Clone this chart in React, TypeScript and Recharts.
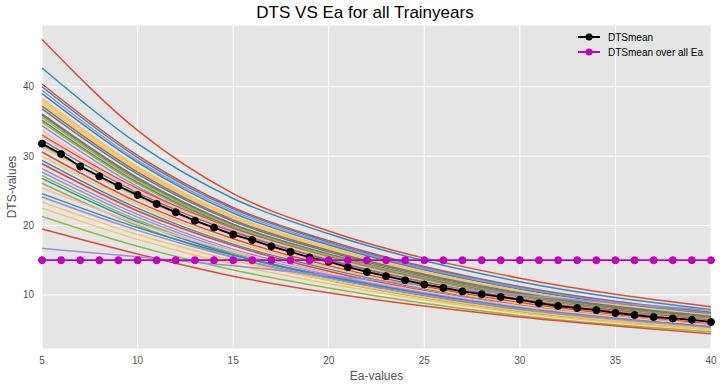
import { LineChart, Line, XAxis, YAxis, CartesianGrid } from 'recharts';

// Ea values (x axis) for the mean series
const eaValues = [5, 6, 7, 8, 9, 10, 11, 12, 13, 14, 15, 16, 17, 18, 19, 20, 21, 22, 23, 24, 25, 26, 27, 28, 29, 30, 31, 32, 33, 34, 35, 36, 37, 38, 39, 40];

const dtsMean = [31.8, 30.3, 28.5, 27.1, 25.7, 24.4, 23.1, 21.9, 20.7, 19.7, 18.7, 17.9, 17.0, 16.2, 15.4, 14.8, 14.0, 13.3, 12.7, 12.1, 11.5, 11.0, 10.5, 10.1, 9.7, 9.3, 8.8, 8.4, 8.1, 7.8, 7.4, 7.1, 6.8, 6.6, 6.4, 6.1];

const dtsMeanAllEa = [15.0, 15.0, 15.0, 15.0, 15.0, 15.0, 15.0, 15.0, 15.0, 15.0, 15.0, 15.0, 15.0, 15.0, 15.0, 15.0, 15.0, 15.0, 15.0, 15.0, 15.0, 15.0, 15.0, 15.0, 15.0, 15.0, 15.0, 15.0, 15.0, 15.0, 15.0, 15.0, 15.0, 15.0, 15.0, 15.0];

// Ea values at which each trainyear curve was read
const curveEa = [5, 10, 15, 20, 30, 40];

const trainYearCurves = [
  [46.8, 33.7, 24.6, 19.2, 12.4, 8.3],
  [42.7, 31.8, 23.9, 18.8, 11.9, 7.9],
  [40.4, 30.1, 22.6, 17.8, 11.2, 7.5],
  [40.0, 29.8, 22.4, 17.6, 11.1, 7.4],
  [39.5, 29.4, 22.1, 17.4, 11.0, 7.3],
  [39.0, 29.1, 21.8, 17.2, 10.8, 7.2],
  [38.3, 28.5, 21.4, 16.9, 10.6, 7.1],
  [38.0, 28.3, 21.3, 16.7, 10.6, 7.0],
  [37.6, 28.0, 21.1, 16.5, 10.5, 7.0],
  [37.2, 27.7, 20.8, 16.4, 10.3, 6.9],
  [36.8, 27.4, 20.6, 16.2, 10.2, 6.8],
  [36.1, 26.9, 20.2, 15.9, 10.0, 6.7],
  [35.9, 26.7, 20.1, 15.8, 10.0, 6.6],
  [35.6, 26.5, 19.9, 15.7, 9.9, 6.6],
  [35.2, 26.2, 19.7, 15.5, 9.8, 6.5],
  [34.9, 26.0, 19.5, 15.4, 9.7, 6.5],
  [34.4, 25.6, 19.3, 15.1, 9.6, 6.4],
  [33.7, 25.1, 18.9, 14.8, 9.4, 6.2],
  [33.2, 24.7, 18.6, 14.6, 9.2, 6.1],
  [33.0, 25.3, 19.5, 15.3, 9.6, 6.3],
  [32.8, 25.1, 19.4, 15.3, 9.5, 6.2],
  [32.3, 24.7, 19.1, 15.0, 9.4, 6.1],
  [31.6, 24.2, 18.6, 14.7, 9.2, 6.0],
  [31.3, 24.0, 18.5, 14.6, 9.1, 5.9],
  [30.6, 23.4, 18.1, 14.2, 8.9, 5.8],
  [30.0, 23.0, 17.7, 14.0, 8.7, 5.7],
  [29.4, 22.5, 17.3, 13.7, 8.5, 5.6],
  [29.0, 22.2, 17.1, 13.5, 8.4, 5.5],
  [28.9, 22.1, 17.1, 13.4, 8.4, 5.5],
  [28.2, 21.6, 16.6, 13.1, 8.2, 5.4],
  [27.7, 21.2, 16.3, 12.9, 8.0, 5.3],
  [27.2, 20.8, 16.0, 12.6, 7.9, 5.2],
  [26.8, 20.5, 15.8, 12.5, 7.8, 5.1],
  [26.1, 20.0, 15.4, 12.1, 7.6, 5.0],
  [25.4, 20.3, 16.3, 13.1, 8.4, 5.6],
  [24.6, 19.7, 15.7, 12.7, 8.1, 5.4],
  [24.1, 19.3, 15.4, 12.4, 8.0, 5.3],
  [23.4, 18.7, 15.0, 12.1, 7.7, 5.1],
  [22.5, 18.0, 14.4, 11.6, 7.4, 5.0],
  [21.3, 17.0, 13.6, 11.0, 7.0, 4.7],
  [19.5, 15.9, 12.7, 10.3, 6.8, 4.4],
  [16.7, 15.5, 14.2, 12.8, 10.0, 7.8],
];

const curveColors = [
  '#E24A33', '#348ABD', '#E24A33', '#348ABD', '#988ED5', '#348ABD', '#FBC15E',
  '#FBC15E', '#FBC15E', '#777777', '#777777', '#777777', '#777777', '#8EBA42',
  '#777777', '#8EBA42', '#988ED5', '#FFB5B8', '#FFB5B8', '#E24A33', '#FFB5B8',
  '#777777', '#8EBA42', '#FFB5B8', '#E24A33', '#FBC15E', '#348ABD', '#FFB5B8',
  '#E24A33', '#988ED5', '#988ED5', '#8EBA42', '#348ABD', '#8EBA42', '#FFB5B8',
  '#348ABD', '#988ED5', '#FBC15E', '#FBC15E', '#8EBA42', '#E24A33', '#988ED5',
];

const xTicks = [5, 10, 15, 20, 25, 30, 35, 40];
const yTicks = [10, 20, 30, 40];

const meanData = eaValues.map((x, i) => ({ x, y: dtsMean[i] }));
const meanAllData = eaValues.map((x, i) => ({ x, y: dtsMeanAllEa[i] }));
const curveData = trainYearCurves.map(vals => curveEa.map((x, i) => ({ x, y: vals[i] })));

const MAGENTA = '#BF00BF';

function LegendRow({ color, label, top }: { color: string; label: string; top: number }) {
  return (
    <div style={{ position: 'absolute', left: 577, top: top - 7, height: 14, display: 'flex', alignItems: 'center' }}>
      <svg width={24} height={14}>
        <line x1={1} y1={7} x2={23} y2={7} stroke={color} strokeWidth={2} />
        <circle cx={12} cy={7} r={3.5} fill={color} />
      </svg>
      <span style={{ marginLeft: 7, fontSize: 10, color: '#000', whiteSpace: 'nowrap' }}>{label}</span>
    </div>
  );
}

export default function App() {
  return (
    <div style={{ position: 'absolute', left: 0, top: 0, width: 723, height: 390, background: '#fff', fontFamily: '"Liberation Sans", Arial, sans-serif' }}>
      <LineChart width={723} height={390} margin={{ top: 25, right: 12, bottom: 0, left: 0 }}>
        <CartesianGrid stroke="#ffffff" strokeWidth={1} fill="#E5E5E5" fillOpacity={1} />
        <XAxis
          type="number"
          dataKey="x"
          domain={[5, 40]}
          ticks={xTicks}
          height={41}
          axisLine={false}
          tickLine={false}
          tick={{ fontSize: 10, fill: '#555555' }}
        />
        <YAxis
          type="number"
          dataKey="y"
          domain={[2.2, 48.9]}
          ticks={yTicks}
          allowDataOverflow
          width={42}
          axisLine={false}
          tickLine={false}
          tick={{ fontSize: 10, fill: '#555555' }}
        />
        {curveData.map((d, i) => (
          <Line
            key={i}
            data={d}
            dataKey="y"
            type="monotone"
            stroke={curveColors[i]}
            strokeWidth={1.5}
            dot={false}
            isAnimationActive={false}
          />
        ))}
        <Line
          data={meanData}
          dataKey="y"
          type="linear"
          stroke="#000000"
          strokeWidth={1.8}
          dot={{ r: 3.5, fill: '#000000', stroke: '#000000', strokeWidth: 1 }}
          isAnimationActive={false}
        />
        <Line
          data={meanAllData}
          dataKey="y"
          type="linear"
          stroke={MAGENTA}
          strokeWidth={1.8}
          dot={{ r: 3.5, fill: MAGENTA, stroke: MAGENTA, strokeWidth: 1 }}
          isAnimationActive={false}
        />
      </LineChart>

      <div style={{ position: 'absolute', left: 215, width: 300, top: 3, textAlign: 'center', fontSize: 17, lineHeight: '20px', color: '#000' }}>
        DTS VS Ea for all Trainyears
      </div>
      <div style={{ position: 'absolute', left: 42, width: 669, top: 368, textAlign: 'center', fontSize: 12, lineHeight: '16px', color: '#555555' }}>
        Ea-values
      </div>
      <div style={{ position: 'absolute', left: 12, top: 187, width: 0, height: 0 }}>
        <div style={{ position: 'absolute', left: -50, top: -8, width: 100, textAlign: 'center', fontSize: 12, lineHeight: '16px', color: '#555555', transform: 'rotate(-90deg)', whiteSpace: 'nowrap' }}>
          DTS-values
        </div>
      </div>

      <LegendRow color="#000000" label="DTSmean" top={37} />
      <LegendRow color={MAGENTA} label="DTSmean over all Ea" top={52} />
    </div>
  );
}
